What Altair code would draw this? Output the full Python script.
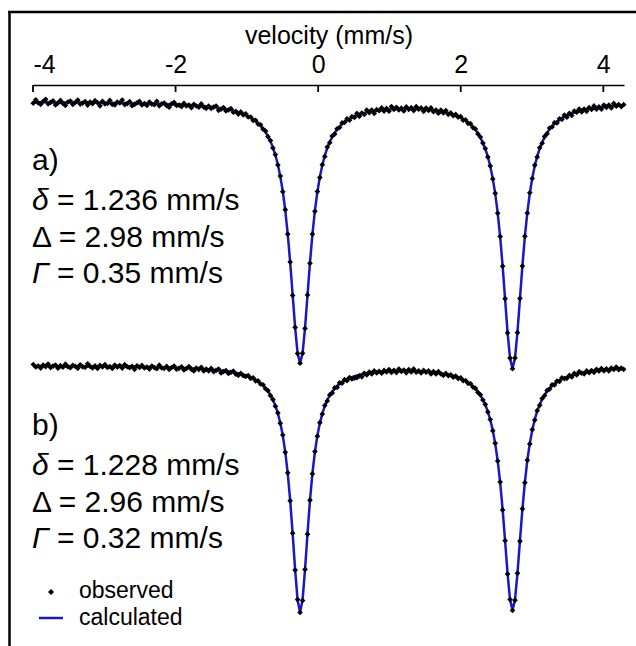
import altair as alt
import pandas as pd

# ---- velocity calibration of the channels (mm/s) ----
V_START = -3.996
V_STEP = 0.03465

# ---- spectrum a): relative transmission (%) ----
calc_a = [
    99.93, 99.92, 99.92, 99.92, 99.92, 99.92, 99.92, 99.92, 99.91, 99.91,
    99.91, 99.91, 99.91, 99.91, 99.90, 99.90, 99.90, 99.90, 99.90, 99.89,
    99.89, 99.89, 99.89, 99.89, 99.88, 99.88, 99.88, 99.87, 99.87, 99.87,
    99.86, 99.86, 99.86, 99.86, 99.85, 99.85, 99.85, 99.84, 99.84, 99.83,
    99.83, 99.82, 99.82, 99.81, 99.81, 99.80, 99.80, 99.79, 99.79, 99.78,
    99.77, 99.77, 99.76, 99.75, 99.74, 99.73, 99.72, 99.71, 99.70, 99.69,
    99.69, 99.67, 99.66, 99.65, 99.63, 99.62, 99.60, 99.58, 99.56, 99.54,
    99.52, 99.49, 99.46, 99.44, 99.40, 99.37, 99.33, 99.29, 99.25, 99.20,
    99.14, 99.08, 99.01, 98.94, 98.86, 98.76, 98.65, 98.53, 98.40, 98.24,
    98.06, 97.84, 97.59, 97.30, 96.95, 96.53, 96.03, 95.41, 94.65, 93.70,
    92.51, 91.02, 89.13, 86.77, 83.91, 80.66, 77.38, 74.83, 73.85, 74.79,
    77.34, 80.61, 83.86, 86.71, 89.07, 90.95, 92.45, 93.63, 94.58, 95.34,
    95.95, 96.45, 96.86, 97.21, 97.50, 97.74, 97.95, 98.13, 98.28, 98.41,
    98.53, 98.63, 98.72, 98.80, 98.86, 98.92, 98.98, 99.03, 99.06, 99.10,
    99.13, 99.16, 99.19, 99.21, 99.23, 99.24, 99.26, 99.27, 99.27, 99.28,
    99.28, 99.28, 99.28, 99.28, 99.27, 99.26, 99.25, 99.24, 99.22, 99.20,
    99.18, 99.16, 99.13, 99.09, 99.05, 99.01, 98.96, 98.91, 98.85, 98.78,
    98.70, 98.61, 98.51, 98.39, 98.25, 98.10, 97.92, 97.70, 97.45, 97.16,
    96.81, 96.39, 95.88, 95.25, 94.48, 93.52, 92.31, 90.79, 88.87, 86.46,
    83.56, 80.24, 76.91, 74.31, 73.31, 74.32, 76.92, 80.25, 83.57, 86.48,
    88.89, 90.82, 92.34, 93.56, 94.52, 95.30, 95.93, 96.44, 96.87, 97.23,
    97.53, 97.78, 98.00, 98.18, 98.34, 98.49, 98.61, 98.72, 98.82, 98.90,
    98.98, 99.05, 99.11, 99.17, 99.22, 99.26, 99.31, 99.34, 99.38, 99.41,
    99.44, 99.47, 99.49, 99.52, 99.54, 99.56, 99.58, 99.60, 99.61, 99.63,
]
obs_a = [
    99.83, 100.17, 99.87, 99.72, 100.02, 100.22, 99.77, 99.92, 100.06, 99.66,
    99.86, 100.11, 99.81, 99.61, 99.95, 100.05, 99.70, 99.90, 100.15, 99.74,
    99.84, 99.99, 99.64, 99.94, 99.78, 100.08, 99.88, 99.57, 100.02, 99.77,
    99.81, 100.11, 99.71, 99.66, 99.95, 99.85, 100.15, 99.69, 99.79, 99.98,
    99.58, 99.72, 99.87, 100.01, 99.66, 99.80, 99.60, 99.94, 99.74, 99.68,
    100.02, 99.57, 99.76, 99.85, 99.59, 99.43, 99.77, 99.91, 99.60, 99.64,
    99.49, 99.82, 99.56, 99.65, 99.38, 99.72, 99.55, 99.43, 99.76, 99.44,
    99.32, 99.54, 99.31, 99.44, 99.55, 99.12, 99.23, 99.39, 99.05, 99.15,
    99.29, 98.93, 99.01, 98.74, 98.96, 98.66, 98.77, 98.45, 98.45, 98.12,
    98.12, 97.74, 97.67, 97.24, 97.05, 96.48, 96.10, 95.35, 94.69, 93.65,
    92.54, 90.98, 89.18, 86.74, 83.95, 80.61, 77.41, 74.79, 73.83, 74.83,
    77.31, 80.66, 83.82, 86.74, 89.02, 90.99, 92.39, 93.68, 94.50, 95.44,
    95.88, 96.54, 96.74, 97.27, 97.40, 97.86, 97.90, 98.27, 98.13, 98.49,
    98.41, 98.81, 98.52, 98.85, 98.71, 99.14, 98.88, 99.15, 98.81, 99.18,
    99.08, 99.36, 99.04, 99.31, 99.03, 99.49, 99.21, 99.42, 99.15, 99.33,
    99.06, 99.46, 99.20, 99.38, 99.09, 99.48, 99.23, 99.36, 99.02, 99.35,
    99.10, 99.36, 98.98, 99.14, 98.83, 99.13, 98.86, 99.09, 98.70, 98.86,
    98.58, 98.71, 98.43, 98.49, 98.13, 98.16, 97.82, 97.78, 97.39, 97.25,
    96.76, 96.45, 95.84, 95.30, 94.45, 93.56, 92.26, 90.82, 88.83, 86.51,
    83.53, 80.28, 76.86, 74.34, 73.28, 74.36, 76.88, 80.30, 83.54, 86.52,
    88.84, 90.88, 92.30, 93.63, 94.46, 95.38, 95.83, 96.51, 96.78, 97.35,
    97.45, 97.88, 97.86, 98.27, 98.22, 98.64, 98.43, 98.82, 98.60, 99.05,
    98.93, 99.25, 98.96, 99.25, 99.02, 99.38, 99.21, 99.56, 99.23, 99.46,
    99.24, 99.65, 99.41, 99.64, 99.36, 99.81, 99.53, 99.70, 99.49, 99.68,
]

# ---- spectrum b): relative transmission (%) ----
calc_b = [
    99.95, 99.95, 99.95, 99.94, 99.94, 99.94, 99.94, 99.94, 99.94, 99.94,
    99.93, 99.93, 99.93, 99.93, 99.93, 99.93, 99.92, 99.92, 99.92, 99.92,
    99.92, 99.92, 99.92, 99.91, 99.91, 99.91, 99.91, 99.91, 99.91, 99.90,
    99.90, 99.90, 99.90, 99.89, 99.89, 99.89, 99.89, 99.88, 99.88, 99.88,
    99.87, 99.87, 99.87, 99.86, 99.86, 99.85, 99.85, 99.84, 99.84, 99.84,
    99.83, 99.83, 99.82, 99.82, 99.81, 99.80, 99.80, 99.79, 99.78, 99.77,
    99.77, 99.76, 99.75, 99.74, 99.73, 99.71, 99.70, 99.69, 99.67, 99.66,
    99.64, 99.62, 99.61, 99.58, 99.56, 99.54, 99.51, 99.48, 99.45, 99.41,
    99.37, 99.33, 99.28, 99.22, 99.16, 99.09, 99.01, 98.92, 98.82, 98.71,
    98.57, 98.41, 98.23, 98.01, 97.75, 97.43, 97.05, 96.57, 95.98, 95.22,
    94.26, 93.01, 91.37, 89.24, 86.51, 83.18, 79.57, 76.55, 75.33, 76.54,
    79.56, 83.16, 86.49, 89.22, 91.35, 92.98, 94.22, 95.19, 95.94, 96.53,
    97.00, 97.38, 97.69, 97.95, 98.17, 98.35, 98.50, 98.63, 98.74, 98.84,
    98.93, 99.00, 99.06, 99.12, 99.17, 99.21, 99.25, 99.28, 99.31, 99.34,
    99.36, 99.38, 99.39, 99.41, 99.42, 99.43, 99.44, 99.44, 99.45, 99.45,
    99.45, 99.45, 99.45, 99.44, 99.44, 99.43, 99.42, 99.41, 99.39, 99.38,
    99.36, 99.33, 99.31, 99.28, 99.25, 99.21, 99.17, 99.13, 99.08, 99.02,
    98.95, 98.88, 98.79, 98.69, 98.58, 98.45, 98.30, 98.12, 97.91, 97.67,
    97.37, 97.02, 96.59, 96.06, 95.40, 94.57, 93.53, 92.19, 90.48, 88.31,
    85.61, 82.45, 79.19, 76.56, 75.54, 76.57, 79.19, 82.46, 85.62, 88.32,
    90.50, 92.21, 93.55, 94.60, 95.43, 96.09, 96.62, 97.06, 97.42, 97.72,
    97.96, 98.18, 98.36, 98.51, 98.65, 98.76, 98.87, 98.96, 99.04, 99.11,
    99.17, 99.23, 99.28, 99.32, 99.36, 99.40, 99.44, 99.47, 99.50, 99.52,
    99.55, 99.57, 99.59, 99.61, 99.63, 99.65, 99.66, 99.68, 99.69, 99.70,
]
obs_b = [
    100.10, 99.85, 99.95, 99.74, 100.04, 99.89, 100.14, 99.79, 99.94, 100.04,
    99.73, 99.98, 99.83, 100.13, 99.88, 99.78, 100.02, 99.92, 99.72, 100.07,
    99.87, 99.82, 100.17, 99.91, 99.76, 99.96, 99.71, 100.01, 99.86, 100.10,
    99.80, 99.90, 99.70, 100.04, 99.84, 99.99, 99.74, 100.08, 99.88, 99.78,
    99.92, 99.62, 99.97, 99.81, 100.01, 99.75, 99.85, 99.64, 99.94, 99.79,
    99.68, 100.03, 99.77, 99.72, 99.91, 99.60, 99.80, 99.94, 99.63, 99.72,
    99.87, 99.56, 99.70, 99.89, 99.63, 99.46, 99.75, 99.59, 99.82, 99.46,
    99.64, 99.47, 99.71, 99.38, 99.51, 99.64, 99.26, 99.38, 99.50, 99.21,
    99.32, 99.43, 99.13, 99.02, 99.21, 98.99, 98.91, 99.00, 98.70, 98.77,
    98.47, 98.46, 98.15, 98.07, 97.68, 97.48, 96.99, 96.61, 95.93, 95.26,
    94.23, 93.05, 91.32, 89.27, 86.47, 83.23, 79.54, 76.59, 75.30, 76.50,
    79.61, 83.13, 86.53, 89.17, 91.39, 92.93, 94.28, 95.14, 96.01, 96.45,
    97.06, 97.26, 97.77, 97.81, 98.27, 98.23, 98.58, 98.48, 98.80, 98.66,
    98.73, 98.78, 98.96, 98.87, 99.22, 99.06, 99.35, 99.16, 99.46, 99.26,
    99.41, 99.23, 99.51, 99.36, 99.60, 99.31, 99.52, 99.29, 99.65, 99.40,
    99.55, 99.27, 99.60, 99.36, 99.66, 99.33, 99.47, 99.26, 99.51, 99.33,
    99.46, 99.15, 99.39, 99.16, 99.40, 99.16, 99.02, 99.21, 98.98, 99.07,
    98.83, 98.94, 98.69, 98.77, 98.48, 98.50, 98.22, 98.18, 97.84, 97.72,
    97.31, 97.07, 96.55, 96.11, 95.36, 94.60, 93.48, 92.23, 90.45, 88.35,
    85.56, 82.48, 79.15, 76.59, 75.51, 76.53, 79.23, 82.43, 85.67, 88.28,
    90.53, 92.16, 93.59, 94.54, 95.48, 96.02, 96.70, 97.00, 97.51, 97.64,
    98.06, 98.06, 98.44, 98.41, 98.77, 98.68, 98.72, 99.01, 98.86, 99.21,
    99.05, 99.38, 99.23, 99.17, 99.46, 99.28, 99.49, 99.32, 99.62, 99.44,
    99.70, 99.47, 99.67, 99.46, 99.75, 99.60, 99.84, 99.58, 99.74, 99.62,
]

OFFSET_B = 26.4          # vertical offset of spectrum b (% units)
TICKS = [-4, -2, 0, 2, 4]
PARAMS = {
    "a": {"label": "a)", "delta": "1.236", "Delta": "2.98", "Gamma": "0.35"},
    "b": {"label": "b)", "delta": "1.228", "Delta": "2.96", "Gamma": "0.32"},
}
LEGEND = ["observed", "calculated"]

velocity = [round(V_START + V_STEP * i, 4) for i in range(len(obs_a))]
rows = []
for spec, obs, calc, off in (("a", obs_a, calc_a, 0.0), ("b", obs_b, calc_b, OFFSET_B)):
    for v, o, c in zip(velocity, obs, calc):
        rows.append({"v": v, "obs": round(o - off, 3), "calc": round(c - off, 3), "spec": spec})
df = pd.DataFrame(rows)

FONT = "Liberation Sans"
BLUE = "#1818c8"
xscale = alt.Scale(domain=[-4, 4.29], nice=False, zero=False)
yscale = alt.Scale(domain=[46.15, 101.65], nice=False, zero=False)

X_ENC = alt.X(
    "v:Q", scale=xscale,
    axis=alt.Axis(
        orient="top", values=TICKS, ticks=False, tickSize=0, grid=False,
        labelFont=FONT, labelFontSize=25, labelColor="black", labelPadding=8,
        labelExpr="datum.value < 0 ? '-' + abs(datum.value) : '' + datum.value",
        domainColor="black", domainWidth=1.6,
        title="velocity (mm/s)", titleFont=FONT, titleFontSize=25,
        titleFontWeight="normal", titleColor="black", titlePadding=4,
    ),
)

line = alt.Chart(df).mark_line(color=BLUE, strokeWidth=2.5).encode(
    x=X_ENC, y=alt.Y("calc:Q", scale=yscale, axis=None),
    detail="spec:N", order="v:Q",
)
points = alt.Chart(df).mark_point(
    shape="diamond", filled=True, color="black", size=32, opacity=1
).encode(x=X_ENC, y=alt.Y("obs:Q", scale=yscale, axis=None))

ticks = alt.Chart(pd.DataFrame({"v": TICKS})).mark_rule(
    color="black", strokeWidth=1.8
).encode(x=X_ENC, y=alt.value(0), y2=alt.value(7))

one = pd.DataFrame({"k": [0]})
frame_left = alt.Chart(one).mark_rule(color="black", strokeWidth=2.5).encode(
    x=alt.value(-23.5), y=alt.value(-74), y2=alt.value(580))
frame_top = alt.Chart(one).mark_rule(color="black", strokeWidth=2.5).encode(
    x=alt.value(-25), x2=alt.value(620), y=alt.value(-73))


def ann(text, x, y, italic=False, size=30):
    kw = dict(text=text, align="left", baseline="alphabetic", font=FONT,
              fontSize=size, color="black")
    if italic:
        kw["fontStyle"] = "italic"
    return alt.Chart(one).mark_text(**kw).encode(x=alt.value(x), y=alt.value(y))


texts = []
for spec, y0 in (("a", 85), ("b", 350)):
    p = PARAMS[spec]
    texts += [
        ann(p["label"], -1, y0),
        ann("\u03b4", -1, y0 + 40, italic=True),
        ann("= " + p["delta"] + " mm/s", 24, y0 + 40),
        ann("\u0394 = " + p["Delta"] + " mm/s", -1, y0 + 77),
        ann("\u0393", -1, y0 + 113, italic=True),
        ann("= " + p["Gamma"] + " mm/s", 24, y0 + 113),
    ]

leg_pt = alt.Chart(one).mark_point(shape="diamond", filled=True, color="black",
                                   size=36, opacity=1).encode(
    x=alt.value(18), y=alt.value(507))
leg_line = alt.Chart(one).mark_rule(color=BLUE, strokeWidth=2.5).encode(
    x=alt.value(6), x2=alt.value(30), y=alt.value(533))
texts += [ann(LEGEND[0], 46, 513, size=23), ann(LEGEND[1], 46, 540, size=23)]

chart = alt.layer(
    frame_left, frame_top, ticks, line, points, leg_pt, leg_line, *texts
).properties(
    width=591, height=555,
    autosize=alt.AutoSizeParams(type="none"),
    padding={"left": 33, "top": 85, "right": 12, "bottom": 6},
    background="white",
).configure_view(stroke=None)

chart.save("out.html", embed_options={"renderer": "svg", "actions": False})
